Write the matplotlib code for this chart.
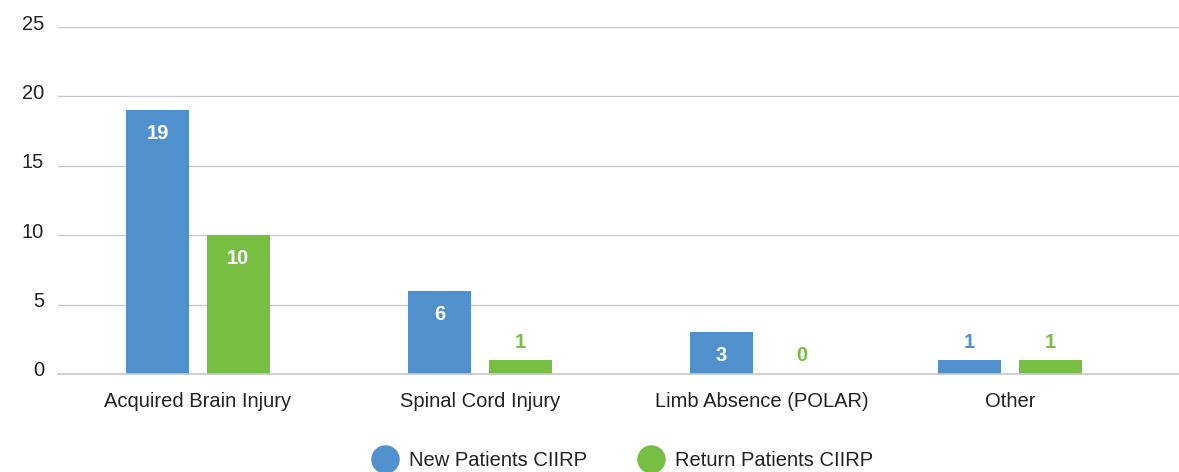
import matplotlib.pyplot as plt
from matplotlib.lines import Line2D
import matplotlib.transforms as mtransforms

categories = ["Acquired Brain Injury", "Spinal Cord Injury", "Limb Absence (POLAR)", "Other"]
new_patients = [19, 6, 3, 1]
return_patients = [10, 1, 0, 1]
series_names = ["New Patients CIIRP", "Return Patients CIIRP"]

BLUE = "#5091CD"
GREEN = "#77BF43"

# category centres (the last group sits a bit closer in the original)
x_pos = [0, 1, 2, 2.88]
offset = 0.143
width = 0.224

plt.rcParams["font.family"] = ["Liberation Sans", "DejaVu Sans"]

fig = plt.figure(figsize=(11.79, 4.72), dpi=100)
ax = fig.add_axes([58 / 1179, 98 / 472, 1 - 58 / 1179, 347 / 472])


def label_bars(bars, values, color):
    for b, v in zip(bars, values):
        xc = b.get_x() + b.get_width() / 2
        if v >= 3:
            ax.annotate(str(v), (xc, v), xytext=(0, -17), textcoords="offset points",
                        ha="center", va="center", color="white", fontsize=14.5, fontweight="bold")
        else:
            ax.annotate(str(v), (xc, v), xytext=(0, 13), textcoords="offset points",
                        ha="center", va="center", color=color, fontsize=14.5, fontweight="bold")


xs_new = [x - offset for x in x_pos]
xs_ret = [x + offset for x in x_pos]
b1 = ax.bar(xs_new, new_patients, width, color=BLUE, zorder=3)
b2 = ax.bar(xs_ret, return_patients, width, color=GREEN, zorder=3)
label_bars(b1, new_patients, BLUE)
label_bars(b2, return_patients, GREEN)

ax.set_xlim(-0.496, 3.479)
ax.set_ylim(0, 25)
ax.set_yticks(range(0, 26, 5))
ax.set_xticks(x_pos)
ax.set_xticklabels(categories, fontsize=14.5, color="#222222")
ax.tick_params(axis="both", length=0, labelsize=14.5, labelcolor="#222222")
ax.tick_params(axis="x", pad=13)
ax.tick_params(axis="y", pad=10)
for lbl in ax.get_yticklabels():
    lbl.set_transform(lbl.get_transform() + mtransforms.ScaledTranslation(0, 5 / 100, fig.dpi_scale_trans))
ax.grid(axis="y", color="#C8C8C8", linewidth=1, zorder=0)
ax.axhline(0, color="#C8C8C8", linewidth=1.2, zorder=4, clip_on=False)
for s in ax.spines.values():
    s.set_visible(False)

handles = [Line2D([], [], linestyle="none", marker="o", markersize=19.5, color=c)
           for c in (BLUE, GREEN)]
fig.legend(handles, series_names, loc="center", bbox_to_anchor=(623 / 1179, 1 - 461 / 472),
           ncol=2, frameon=False, fontsize=14.5, handletextpad=0.6, columnspacing=2.6,
           handlelength=1.2, labelcolor="#222222")

fig.savefig("out.png", dpi=100)
